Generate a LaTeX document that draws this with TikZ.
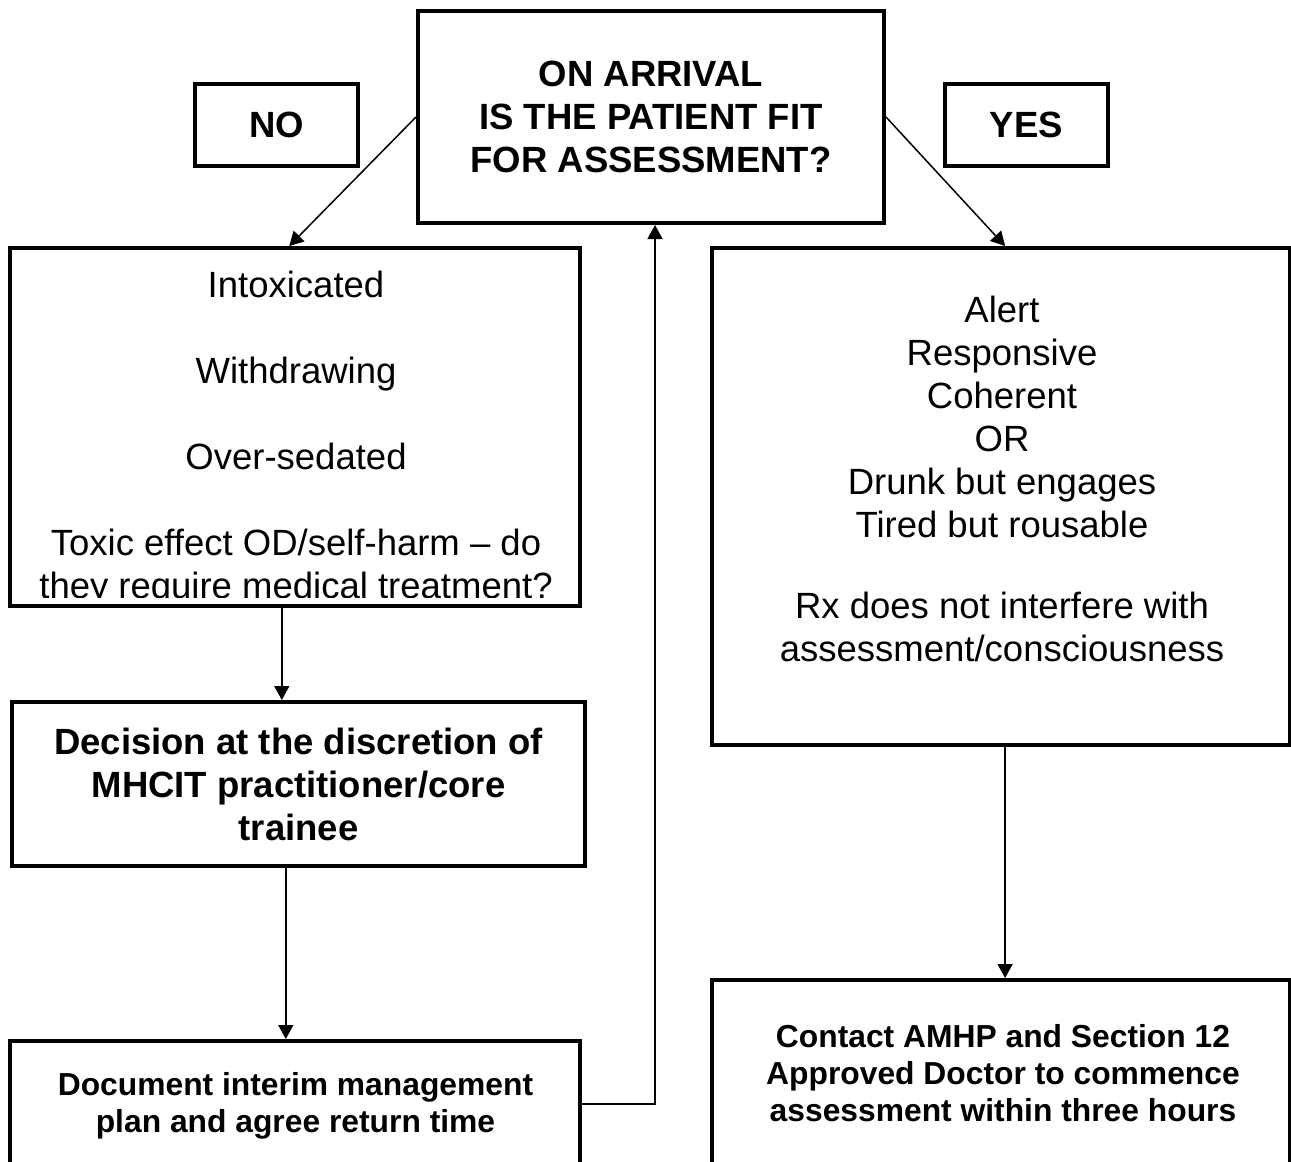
\documentclass[tikz,border=0pt]{standalone}
\usepackage{fontspec}
\setmainfont{Liberation Sans}
\usetikzlibrary{arrows.meta,calc}
\tikzset{
  box/.style={draw, line width=4pt, rectangle, inner sep=0pt, align=center},
  big/.style={font=\fontsize{36.5}{43}\selectfont},
  bigb/.style={font=\fontsize{36.5}{43}\selectfont\bfseries},
  smallb/.style={font=\fontsize{31.8}{37}\selectfont\bfseries},
  arr/.style={line width=1.5pt, -{Triangle[length=14pt,width=15pt]}},
  txt/.style={inner sep=0pt, align=center},
}
\begin{document}
\begin{tikzpicture}[x=1pt,y=-1pt]
\useasboundingbox (0,0) rectangle (1291,1162);
\clip (0,0) rectangle (1291,1162);
\node[box,bigb,minimum width=466pt,minimum height=212pt] (top) at (651,117) {ON ARRIVAL\\IS THE PATIENT FIT\\FOR ASSESSMENT?};
\node[box,bigb,minimum width=163pt,minimum height=82pt] (no) at (276.5,125) {NO};
\node[box,bigb,minimum width=163pt,minimum height=82pt] (yes) at (1026.5,125) {YES};

\node[box,minimum width=570pt,minimum height=358pt] (leftA) at (295,427) {};
\begin{scope}
  \clip (leftA.north west) rectangle ($(leftA.south east)+(0,-11)$);
  \node[txt,big] (leftAtext) at (296,439) {Intoxicated\\[43pt]Withdrawing\\[43pt]Over-sedated\\[43pt]Toxic effect OD/self-harm – do\\they require medical treatment?};
\end{scope}

\node[box,minimum width=578pt,minimum height=497pt] (rightA) at (1001,496.5) {};
\node[txt,big] (rightAtext) at (1002,479) {Alert\\Responsive\\Coherent\\OR\\Drunk but engages\\Tired but rousable\\[38pt]Rx does not interfere with\\assessment/consciousness};

\node[box,bigb,minimum width=573pt,minimum height=164pt] (leftB) at (298.5,784) {Decision at the discretion of\\MHCIT practitioner/core\\trainee};

\node[box,minimum width=570pt,minimum height=200pt] (leftC) at (295,1141) {};
\node[txt,smallb] (leftCtext) at (295.5,1106) {Document interim management\\plan and agree return time};

\node[box,minimum width=578pt,minimum height=240pt] (rightB) at (1001,1100) {};
\node[txt,smallb] (rightBtext) at (1003,1073) {Contact AMHP and Section 12\\Approved Doctor to commence\\assessment within three hours};

\draw[arr] (top.west) -- ($(leftA.north west)!0.49!(leftA.north east)$);
\draw[arr] (top.east) -- ($(rightA.north west)!0.507!(rightA.north east)$);
\coordinate (a1) at ($(leftA.south west)!0.477!(leftA.south east)$);
\draw[arr] (a1) -- (a1 |- leftB.north);
\coordinate (a2) at ($(leftB.south west)!0.478!(leftB.south east)$);
\draw[arr] (a2) -- (a2 |- leftC.north);
\coordinate (a3) at ($(rightA.south west)!0.507!(rightA.south east)$);
\draw[arr] (a3) -- (a3 |- rightB.north);
\draw[arr] ($(leftC.north east)+(0,65)$) -| ($(top.south)+(4,0)$);
\end{tikzpicture}
\end{document}
